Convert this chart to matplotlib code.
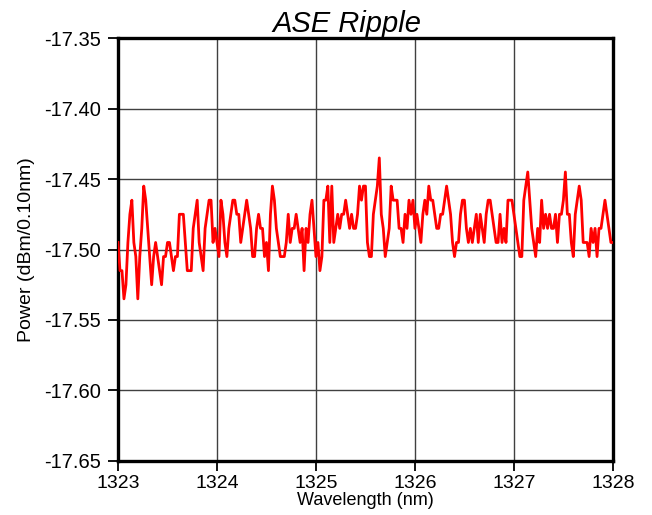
import numpy as np
import matplotlib.pyplot as plt

plt.rcParams['font.family'] = ['Liberation Sans', 'DejaVu Sans']

# wavelength grid (nm), 0.02 nm step
wl_start = 1323.0
wl_stop = 1328.0

# power readings (dBm/0.10nm)
power = [
    -17.495, -17.515, -17.515, -17.535, -17.525, -17.495, -17.475, -17.465, -17.495, -17.505,
    -17.535, -17.505, -17.485, -17.455, -17.465, -17.485, -17.505, -17.525, -17.505, -17.495,
    -17.505, -17.515, -17.525, -17.505, -17.505, -17.495, -17.495, -17.505, -17.515, -17.505,
    -17.505, -17.475, -17.475, -17.475, -17.495, -17.515, -17.515, -17.515, -17.485, -17.475,
    -17.465,
    -17.495, -17.505, -17.515, -17.485, -17.475, -17.465, -17.465, -17.495, -17.485, -17.495,
    -17.505, -17.465, -17.475, -17.495, -17.505, -17.485, -17.475, -17.465, -17.465, -17.475,
    -17.475, -17.495, -17.485, -17.475, -17.465, -17.475, -17.485, -17.505, -17.505, -17.485,
    -17.475, -17.485, -17.485, -17.505, -17.495, -17.515, -17.475, -17.455, -17.465, -17.485,
    -17.495, -17.505,
    -17.505, -17.505, -17.495, -17.475, -17.495, -17.485, -17.485, -17.475, -17.485, -17.495,
    -17.485, -17.515, -17.485, -17.495, -17.475, -17.465, -17.485, -17.505, -17.495, -17.515,
    -17.505, -17.465, -17.465, -17.455, -17.495, -17.455, -17.495, -17.485, -17.475, -17.485,
    -17.475, -17.475, -17.465, -17.475, -17.485, -17.475, -17.485, -17.485, -17.475, -17.455,
    -17.465, -17.455,
    -17.455, -17.495, -17.505, -17.505, -17.475, -17.465, -17.455, -17.435, -17.475, -17.485,
    -17.505, -17.495, -17.485, -17.455, -17.465, -17.465, -17.465, -17.485, -17.485, -17.495,
    -17.475, -17.485, -17.465, -17.475, -17.465, -17.485, -17.475, -17.485, -17.495, -17.475,
    -17.465, -17.475, -17.455, -17.465, -17.465, -17.475, -17.485, -17.485, -17.475, -17.475,
    -17.465, -17.455,
    -17.465, -17.475, -17.495, -17.505, -17.495, -17.495, -17.475, -17.465, -17.465, -17.485,
    -17.495, -17.485, -17.495, -17.485, -17.475, -17.495, -17.475, -17.485, -17.495, -17.475,
    -17.465, -17.465, -17.475, -17.485, -17.495, -17.495, -17.475, -17.495, -17.485, -17.495,
    -17.465, -17.465, -17.465, -17.475, -17.485, -17.495, -17.505, -17.505, -17.465, -17.455,
    -17.445, -17.465,
    -17.485, -17.495, -17.505, -17.485, -17.495, -17.465, -17.485, -17.475, -17.485, -17.475,
    -17.485, -17.485, -17.475, -17.495, -17.475, -17.475, -17.465, -17.445, -17.475, -17.475,
    -17.495, -17.505, -17.475, -17.465, -17.455, -17.465, -17.495, -17.495, -17.495, -17.505,
    -17.485, -17.495, -17.485, -17.505, -17.485, -17.485, -17.475, -17.465, -17.475, -17.485,
    -17.495, -17.495,
]
wavelength = np.linspace(wl_start, wl_stop, len(power))

x_ticks = [1323, 1324, 1325, 1326, 1327, 1328]
y_ticks = [-17.65, -17.60, -17.55, -17.50, -17.45, -17.40, -17.35]

fig = plt.figure(figsize=(6.52, 5.15), dpi=100)
ax = fig.add_axes([0.181, 0.105, 0.759, 0.821])

ax.plot(wavelength, power, color='#ff0000', linewidth=2.0, zorder=3)

ax.set_xlim(1323, 1328)
ax.set_ylim(-17.65, -17.35)
ax.set_xticks(x_ticks)
ax.set_yticks(y_ticks)
ax.set_yticklabels(['%.2f' % v for v in y_ticks])
ax.grid(True, color='#404040', linewidth=1.0, zorder=1)

for s in ax.spines.values():
    s.set_linewidth(2.4)
    s.set_color('black')

ax.tick_params(axis='both', direction='out', length=7, width=1.3, labelsize=14.5, pad=5)
ax.tick_params(axis='x', labelsize=14, pad=3)

ax.set_title('ASE Ripple', fontsize=21, style='italic', x=0.463, pad=1)
ax.set_xlabel('Wavelength (nm)', fontsize=13, labelpad=0)
ax.set_ylabel('Power (dBm/0.10nm)', fontsize=14, labelpad=7)

fig.savefig('out.png', dpi=100)
